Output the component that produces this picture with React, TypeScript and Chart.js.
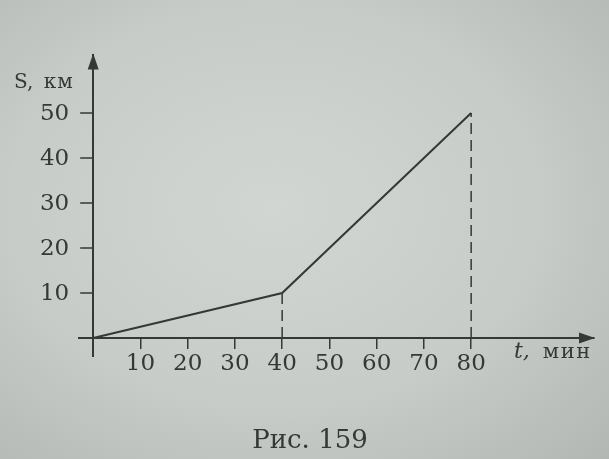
import React, { useEffect, useRef } from "react";
import { Chart, registerables } from "chart.js";

Chart.register(...registerables);

// data
const timeMin = [0, 40, 80];
const distanceKm = [0, 10, 50];
const dropLineTimes = [40, 80];
const xTickValues = [10, 20, 30, 40, 50, 60, 70, 80];
const yTickValues = [10, 20, 30, 40, 50];
const yAxisTitle = ["S,", "км"];
const xAxisTitle = ["t,", "мин"];
const caption = "Рис. 159";

const INK = "#353836";
const SERIF = "'DejaVu Serif', serif";

export default function App() {
  const ref = useRef<HTMLCanvasElement | null>(null);

  useEffect(() => {
    if (!ref.current) return;
    const mainData = timeMin.map((t, i) => ({ x: t, y: distanceKm[i] }));
    const dropSets = dropLineTimes.map((t) => {
      const i = timeMin.indexOf(t);
      return {
        data: [
          { x: t, y: 0 },
          { x: t, y: distanceKm[i] },
        ],
        borderColor: INK,
        borderWidth: 1.5,
        borderDash: [11, 6],
        pointRadius: 0,
        fill: false,
      };
    });

    const decor = {
      id: "decor",
      afterDraw(chart: any) {
        const ctx = chart.ctx as CanvasRenderingContext2D;
        const xs = chart.scales.x;
        const ys = chart.scales.y;
        const x0 = xs.getPixelForValue(0);
        const y0 = ys.getPixelForValue(0);
        const top = ys.getPixelForValue(ys.max);
        const right = xs.getPixelForValue(xs.max);
        ctx.save();
        ctx.fillStyle = INK;
        ctx.strokeStyle = INK;
        // y ticks and labels
        ctx.lineWidth = 1.5;
        ctx.font = `23px ${SERIF}`;
        ctx.textAlign = "right";
        ctx.textBaseline = "middle";
        yTickValues.forEach((v) => {
          const py = ys.getPixelForValue(v);
          ctx.beginPath();
          ctx.moveTo(x0 - 13, py);
          ctx.lineTo(x0, py);
          ctx.stroke();
          ctx.fillText(String(v), x0 - 24, py + 1);
        });
        // y arrow
        ctx.beginPath();
        ctx.moveTo(x0, top - 1);
        ctx.lineTo(x0 - 5.5, top + 15);
        ctx.lineTo(x0 + 5.5, top + 15);
        ctx.closePath();
        ctx.fill();
        // x arrow
        ctx.beginPath();
        ctx.moveTo(right + 1, y0);
        ctx.lineTo(right - 15, y0 - 5.5);
        ctx.lineTo(right - 15, y0 + 5.5);
        ctx.closePath();
        ctx.fill();

        ctx.textBaseline = "alphabetic";
        ctx.textAlign = "left";
        // y title
        ctx.font = `20px ${SERIF}`;
        ctx.fillText(yAxisTitle[0], 14, 88);
        const w1 = ctx.measureText(yAxisTitle[0] + " ").width;
        (ctx as any).letterSpacing = "1px";
        ctx.fillText(yAxisTitle[1], 14 + w1 + 4, 88);
        // x title
        (ctx as any).letterSpacing = "0px";
        ctx.font = `italic 22px ${SERIF}`;
        ctx.fillText(xAxisTitle[0], 514, 358);
        const w2 = ctx.measureText(xAxisTitle[0] + " ").width;
        ctx.font = `21px ${SERIF}`;
        (ctx as any).letterSpacing = "1.5px";
        ctx.fillText(xAxisTitle[1], 514 + w2 + 6, 358);
        // caption
        (ctx as any).letterSpacing = "0px";
        ctx.textAlign = "center";
        ctx.font = `26px ${SERIF}`;
        ctx.fillText(caption, 310, 448);
        ctx.restore();
      },
    };

    const chart = new Chart(ref.current, {
      type: "line",
      data: {
        datasets: [
          {
            data: mainData,
            borderColor: INK,
            borderWidth: 2,
            pointRadius: 0,
            fill: false,
            tension: 0,
          },
          ...dropSets,
        ],
      },
      options: {
        animation: false,
        responsive: false,
        layout: { padding: { left: 79, right: 15, top: 54.5, bottom: 103 } },
        plugins: {
          legend: { display: false },
          tooltip: { enabled: false },
          title: { display: false },
        },
        scales: {
          x: {
            type: "linear",
            position: { y: 0 },
            min: -3,
            max: 106,
            afterBuildTicks: (s: any) => {
              s.ticks = xTickValues.map((v) => ({ value: v }));
            },
            grid: {
              display: true,
              drawOnChartArea: false,
              drawTicks: true,
              tickLength: 10,
              color: INK,
              lineWidth: 1.5,
            },
            border: { display: true, color: INK, width: 2 },
            ticks: {
              color: INK,
              font: { family: SERIF, size: 23 },
              padding: 2,
              maxRotation: 0,
              autoSkip: false,
            },
          },
          y: {
            type: "linear",
            position: { x: 0 },
            min: -4,
            max: 63,
            afterBuildTicks: (s: any) => {
              s.ticks = yTickValues.map((v) => ({ value: v }));
            },
            grid: { display: false, drawTicks: false },
            border: { display: true, color: INK, width: 2 },
            ticks: { display: false },
          },
        },
      } as any,
      plugins: [decor],
    });
    return () => chart.destroy();
  }, []);

  return (
    <div
      style={{
        position: "fixed",
        left: 0,
        top: 0,
        width: 609,
        height: 459,
        background:
          "radial-gradient(ellipse at 45% 45%, #d2d6d2 0%, #c8ccc8 55%, #b2b7b4 100%)",
      }}
    >
      <canvas ref={ref} width={609} height={459} style={{ display: "block" }} />
    </div>
  );
}
